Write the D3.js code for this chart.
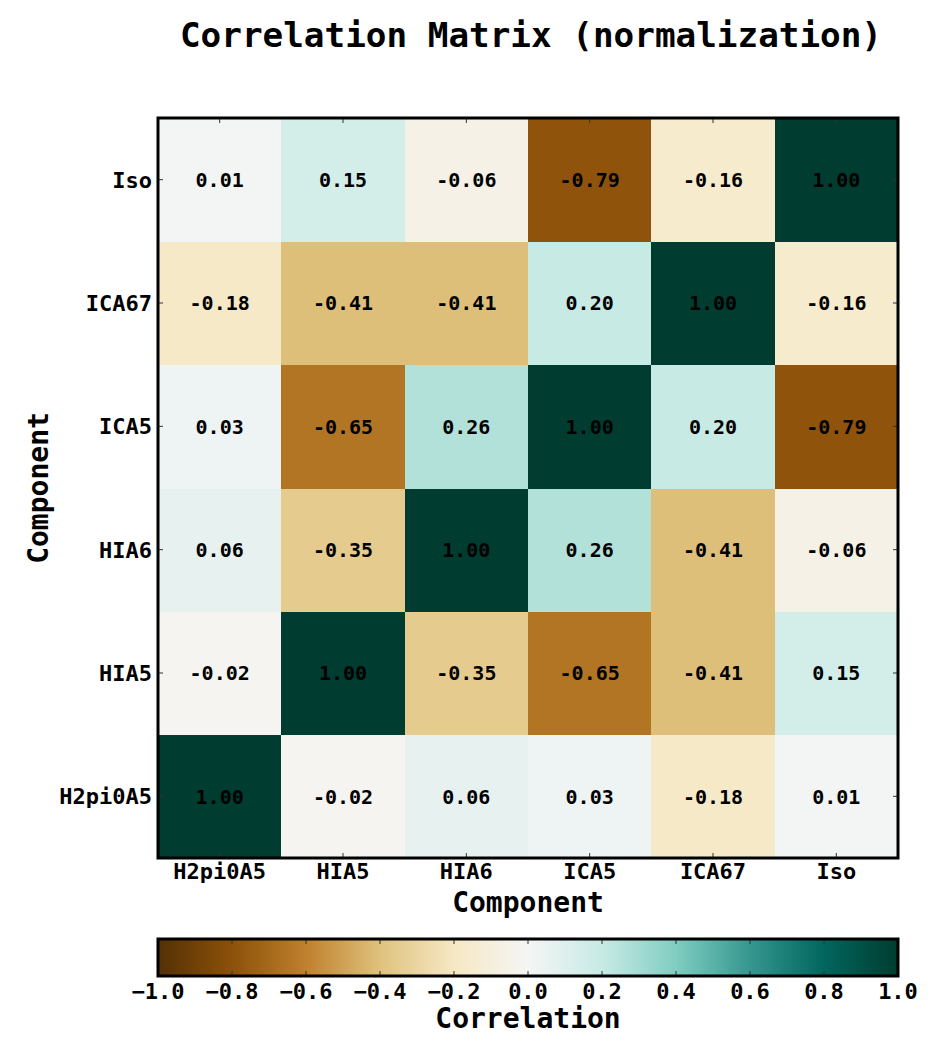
<!DOCTYPE html>
<html>
<head>
<meta charset="utf-8">
<script src="https://cdn.jsdelivr.net/npm/d3@7"></script>
<style>
  html, body { margin: 0; padding: 0; background: #ffffff; }
  svg text { font-family: "DejaVu Sans Mono", monospace; font-weight: bold; fill: #000; }
</style>
</head>
<body>
<svg id="chart" width="935" height="1050"></svg>
<script>
// ---- data ----
const components = ["H2pi0A5", "HIA5", "HIA6", "ICA5", "ICA67", "Iso"];
const corrH2pi0A5 = [1.00, -0.02, 0.06, 0.03, -0.18, 0.01];
const corrHIA5    = [-0.02, 1.00, -0.35, -0.65, -0.41, 0.15];
const corrHIA6    = [0.06, -0.35, 1.00, 0.26, -0.41, -0.06];
const corrICA5    = [0.03, -0.65, 0.26, 1.00, 0.20, -0.79];
const corrICA67   = [-0.18, -0.41, -0.41, 0.20, 1.00, -0.16];
const corrIso     = [0.01, 0.15, -0.06, -0.79, -0.16, 1.00];
const matrix = [corrH2pi0A5, corrHIA5, corrHIA6, corrICA5, corrICA67, corrIso];
const colorbarTicks = [-1.0, -0.8, -0.6, -0.4, -0.2, 0.0, 0.2, 0.4, 0.6, 0.8, 1.0];

// BrBG (matplotlib linear segmented anchors)
const brbgColors = ["#543005","#8c510a","#bf812d","#dfc27d","#f6e8c3","#f5f5f5",
                    "#c7eae5","#80cdc1","#35978f","#01665e","#003c30"];
const brbgDomain = d3.range(11).map(i => -1 + i * 0.2);
const color = d3.scaleLinear().domain(brbgDomain).range(brbgColors).interpolate(d3.interpolateRgb).clamp(true);

const svg = d3.select("#chart");
const L = 158, R = 898, T = 118, B = 858;

const x = d3.scaleBand().domain(components).range([L, R]);
const y = d3.scaleBand().domain(components.slice().reverse()).range([T, B]);

const cells = [];
matrix.forEach((row, ri) => row.forEach((v, ci) => cells.push({r: components[ri], c: components[ci], v})));

// cells (slight overlap to avoid seams)
svg.append("g").attr("shape-rendering", "crispEdges").selectAll("rect").data(cells).join("rect")
  .attr("x", d => x(d.c)).attr("y", d => y(d.r))
  .attr("width", x.bandwidth() + 0.6).attr("height", y.bandwidth() + 0.6)
  .attr("fill", d => color(d.v));

// cell labels
svg.append("g").selectAll("text").data(cells).join("text")
  .attr("x", d => x(d.c) + x.bandwidth() / 2)
  .attr("y", d => y(d.r) + y.bandwidth() / 2)
  .attr("dy", "0.36em")
  .attr("text-anchor", "middle")
  .style("font-size", "20px")
  .text(d => d.v.toFixed(2));

// ticks (inward) on all sides
const tickLen = 5;
const tg = svg.append("g").attr("stroke", "#333").attr("stroke-width", 1);
components.forEach(c => {
  const cx = x(c) + x.bandwidth() / 2;
  tg.append("line").attr("x1", cx).attr("x2", cx).attr("y1", B).attr("y2", B - tickLen);
  tg.append("line").attr("x1", cx).attr("x2", cx).attr("y1", T).attr("y2", T + tickLen);
  const cy = y(c) + y.bandwidth() / 2;
  tg.append("line").attr("y1", cy).attr("y2", cy).attr("x1", L).attr("x2", L + tickLen);
  tg.append("line").attr("y1", cy).attr("y2", cy).attr("x1", R).attr("x2", R - tickLen);
});

// frame
svg.append("rect").attr("x", L).attr("y", T).attr("width", R - L).attr("height", B - T)
  .attr("fill", "none").attr("stroke", "#000").attr("stroke-width", 3);

// x tick labels
svg.append("g").selectAll("text").data(components).join("text")
  .attr("x", d => x(d) + x.bandwidth() / 2).attr("y", 879)
  .attr("text-anchor", "middle").style("font-size", "22px").text(d => d);

// y tick labels
svg.append("g").selectAll("text").data(components).join("text")
  .attr("x", 152).attr("y", d => y(d) + y.bandwidth() / 2).attr("dy", "0.36em")
  .attr("text-anchor", "end").style("font-size", "22px").text(d => d);

// axis labels
svg.append("text").attr("x", (L + R) / 2).attr("y", 912).attr("text-anchor", "middle")
  .style("font-size", "28px").text("Component");
svg.append("text").attr("transform", `translate(48,${(T + B) / 2}) rotate(-90)`)
  .attr("text-anchor", "middle").style("font-size", "28px").text("Component");

// title
svg.append("text").attr("x", 531).attr("y", 47).attr("text-anchor", "middle")
  .style("font-size", "34.3px").text("Correlation Matrix (normalization)");

// colorbar
const CT = 939, CB = 976;
const cx = d3.scaleLinear().domain([-1, 1]).range([L, R]);
const defs = svg.append("defs");
const grad = defs.append("linearGradient").attr("id", "cbgrad").attr("x1", "0%").attr("x2", "100%");
grad.selectAll("stop").data(brbgDomain).join("stop")
  .attr("offset", d => ((d + 1) / 2 * 100) + "%")
  .attr("stop-color", d => color(d));
svg.append("rect").attr("x", L).attr("y", CT).attr("width", R - L).attr("height", CB - CT)
  .attr("fill", "url(#cbgrad)");
const cbt = svg.append("g").attr("stroke", "#333").attr("stroke-width", 1);
colorbarTicks.forEach(t => {
  cbt.append("line").attr("x1", cx(t)).attr("x2", cx(t)).attr("y1", CT).attr("y2", CT + 5);
  cbt.append("line").attr("x1", cx(t)).attr("x2", cx(t)).attr("y1", CB).attr("y2", CB - 5);
});
svg.append("rect").attr("x", L).attr("y", CT).attr("width", R - L).attr("height", CB - CT)
  .attr("fill", "none").attr("stroke", "#000").attr("stroke-width", 3);
svg.append("g").selectAll("text").data(colorbarTicks).join("text")
  .attr("x", d => cx(d)).attr("y", 999).attr("text-anchor", "middle")
  .style("font-size", "22px")
  .text(d => d3.format(".1f")(d).replace("-", "\u2212"));
svg.append("text").attr("x", (L + R) / 2).attr("y", 1028).attr("text-anchor", "middle")
  .style("font-size", "28px").text("Correlation");
</script>
</body>
</html>
